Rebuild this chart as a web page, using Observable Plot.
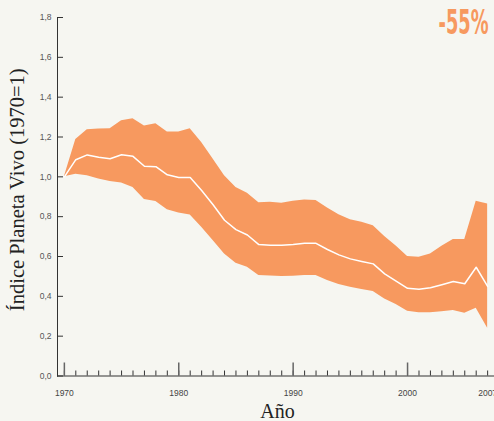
<!DOCTYPE html>
<html><head><meta charset="utf-8">
<script src="https://cdn.jsdelivr.net/npm/d3@7"></script>
<script src="https://cdn.jsdelivr.net/npm/@observablehq/plot@0.6"></script>
<style>html,body{margin:0;padding:0;background:#f6f6f1;}</style>
</head><body><div id="chart"></div>
<script>
const years = [1970,1971,1972,1973,1974,1975,1976,1977,1978,1979,1980,1981,1982,1983,1984,1985,1986,1987,1988,1989,1990,1991,1992,1993,1994,1995,1996,1997,1998,1999,2000,2001,2002,2003,2004,2005,2006,2007];
const upper = [1.0,1.187,1.237,1.24,1.242,1.282,1.292,1.255,1.267,1.225,1.225,1.242,1.173,1.09,1.006,0.947,0.917,0.870,0.872,0.867,0.877,0.884,0.881,0.844,0.81,0.785,0.772,0.755,0.70,0.653,0.60,0.596,0.613,0.651,0.685,0.685,0.877,0.864];
const mean = [1.0,1.086,1.11,1.098,1.091,1.111,1.103,1.053,1.051,1.01,0.997,0.997,0.931,0.86,0.782,0.735,0.708,0.66,0.657,0.656,0.66,0.666,0.666,0.635,0.608,0.588,0.575,0.563,0.513,0.476,0.44,0.436,0.443,0.458,0.474,0.463,0.546,0.45];
const lower = [1.0,1.013,1.006,0.989,0.976,0.969,0.947,0.886,0.876,0.835,0.819,0.808,0.747,0.68,0.613,0.566,0.546,0.504,0.502,0.499,0.501,0.504,0.504,0.479,0.459,0.446,0.434,0.424,0.387,0.359,0.325,0.317,0.317,0.322,0.329,0.315,0.34,0.24];
const labelYears = [1970,1980,1990,2000,2007];
const majorYears = [1970,1980,1990,2000];
const yTicks = [0,0.2,0.4,0.6,0.8,1.0,1.2,1.4,1.6,1.8];
const yLabel = "Índice Planeta Vivo (1970=1)";
const xLabel = "Año";
const changeLabel = "-55%";

const data = years.map((year,i)=>({year, upper:upper[i], mean:mean[i], lower:lower[i]}));
const fmt = d => d.toFixed(1).replace(".", ",");
const orange = "#f7995f";
const bg = "#f6f6f1";

const chart = Plot.plot({
  width:494, height:421, marginLeft:57, marginRight:0, marginTop:17, marginBottom:45.5,
  x:{domain:[1969.4, 2007.6], axis:null},
  y:{domain:[0,1.8], axis:null},
  style:{background:bg, fontFamily:"'Liberation Sans', Arial, sans-serif"},
  marks:[
    Plot.areaY(data,{x:"year", y1:"lower", y2:"upper", fill:orange}),
    Plot.lineY(data,{x:"year", y:"mean", stroke:"white", strokeWidth:1.5}),
    Plot.frame({anchor:"left", stroke:"#333"}),
    Plot.frame({anchor:"bottom", stroke:"#333"}),
    Plot.axisY(yTicks,{anchor:"left", tickSize:-6, fill:"none", stroke:"#333", label:null}),
    Plot.axisY(yTicks,{anchor:"left", tickSize:0, tickPadding:6, tickFormat:fmt, fontSize:8.5, fill:"#555", label:null}),
    Plot.axisX(years,{anchor:"bottom", tickSize:-5, fill:"none", stroke:"#333", label:null}),
    Plot.axisX(majorYears,{anchor:"bottom", tickSize:-13, fill:"none", stroke:"#666", strokeWidth:1.5, label:null}),
    Plot.axisX(labelYears,{anchor:"bottom", tickSize:0, tickPadding:14, tickFormat:d=>String(d), fontSize:8.5, fill:"#444", label:null}),
    Plot.text([yLabel],{frameAnchor:"left", textAnchor:"middle", lineAnchor:"middle", rotate:-90, dx:-40.5, dy:-7, fontFamily:"'Liberation Serif', serif", fontSize:20.5, fill:"#222"}),
    Plot.text([xLabel],{frameAnchor:"bottom", textAnchor:"middle", lineAnchor:"middle", dx:1.5, dy:36, fontFamily:"'Liberation Serif', serif", fontSize:20, fill:"#222"}),
    Plot.text([changeLabel],{frameAnchor:"top-right", textAnchor:"end", lineAnchor:"middle", dx:-6, dy:5.5, fontFamily:"'DejaVu Sans Condensed', 'DejaVu Sans', sans-serif", fontWeight:"bold", fontSize:34, fill:orange})
  ]
});
d3.select(chart).selectAll("text").filter(function(){return this.textContent===changeLabel;})
  .attr("textLength",50).attr("lengthAdjust","spacingAndGlyphs");
document.getElementById("chart").appendChild(chart);
</script>
</body></html>
